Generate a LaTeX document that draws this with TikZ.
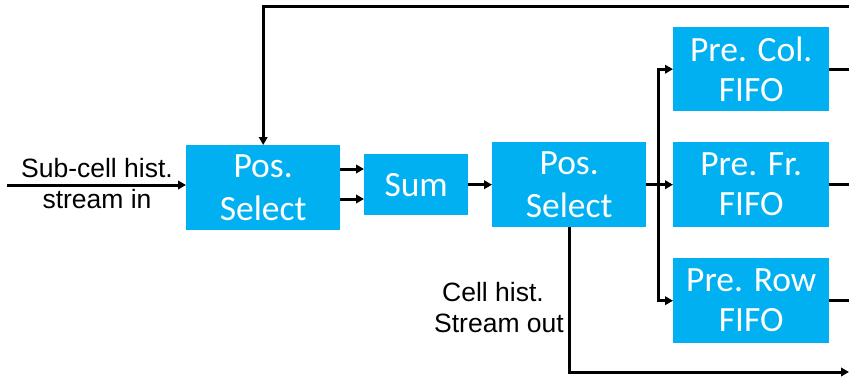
\documentclass[tikz,border=0pt]{standalone}
\usepackage{fontspec}
\setmainfont{Liberation Sans}
\newfontfamily\boxfont{Carlito}
\usetikzlibrary{arrows.meta}
\definecolor{boxblue}{HTML}{00B0F0}
\tikzset{
  blk/.style={fill=boxblue, draw=none, inner sep=0pt, anchor=north west, align=center,
    text=white, font=\boxfont\fontsize{35.5}{43}\selectfont},
  fifo/.style={blk, font=\boxfont\fontsize{35.5}{40}\selectfont},
  lbl/.style={inner sep=0pt, align=center, font=\fontsize{26.5}{31}\selectfont},
  wire/.style={line width=3pt, black},
  arr/.style={wire, -{Triangle[length=8pt,width=8.5pt]}}
}
\begin{document}
\begin{tikzpicture}[x=1pt,y=-1pt]
\useasboundingbox (0,0) rectangle (849,381);
\node[blk, minimum width=154pt, minimum height=85pt] (ps1) at (186,145) {Pos.\\Select};
\node[blk, minimum width=104pt, minimum height=61pt] (sum) at (364,154) {Sum};
\node[blk, minimum width=154pt, minimum height=85pt] (ps2) at (492,142) {Pos.\\Select};
\node[fifo, minimum width=156pt, minimum height=84pt] (col) at (673,27) {Pre. Col.\\FIFO};
\node[fifo, minimum width=156pt, minimum height=85pt] (fr) at (673,142) {Pre. Fr.\\FIFO};
\node[fifo, minimum width=156pt, minimum height=85pt] (row) at (673,258) {Pre. Row\\FIFO};
\node[lbl] (inlbl) at (97,184) {Sub-cell hist.\\stream in};
\node[lbl] (outlbl) at (499,308) {Cell hist.\hspace*{12pt}\\Stream out};
\coordinate (in) at (7,185);
\coordinate (topR) at (849,6);
\coordinate (R) at (849,0);
\coordinate (outR) at (849,372);
\coordinate (ya) at (0,169);
\coordinate (yb) at (0,199);
\coordinate (br) at (658,184.5);
\draw[arr] (in) -- (in -| ps1.west);
\draw[arr] (topR) -| (ps1.north);
\draw[arr] (ps1.east |- ya) -- (sum.west |- ya);
\draw[arr] (ps1.east |- yb) -- (sum.west |- yb);
\draw[arr] (sum.east) -- (ps2.west);
\draw[arr] (ps2.east) -- (fr.west);
\draw[arr] (br) |- (col.west);
\draw[arr] (br) |- (row.west);
\draw[wire] (col.east) -- (col.east -| R);
\draw[wire] (fr.east) -- (fr.east -| R);
\draw[wire] (row.east) -- (row.east -| R);
\draw[arr] (ps2.south) |- (outR);
\end{tikzpicture}
\end{document}
